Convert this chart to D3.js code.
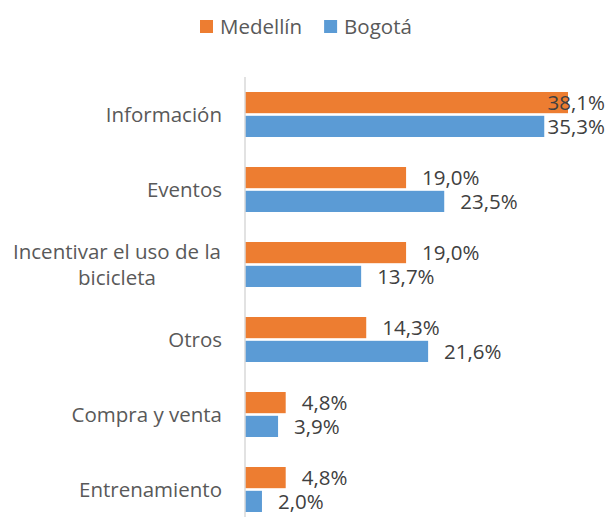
<!DOCTYPE html>
<html>
<head>
<meta charset="utf-8">
<script src="https://cdn.jsdelivr.net/npm/d3@7"></script>
<style>
  body { margin: 0; background: #fff; }
  text { font-family: "Open Sans", "Noto Sans", sans-serif; }
</style>
</head>
<body>
<div id="chart"></div>
<script>
// categories, top to bottom
const categories = ["Información", "Eventos", "Incentivar el uso de la bicicleta", "Otros", "Compra y venta", "Entrenamiento"];
const seriesNames = ["Medellín", "Bogotá"];
const medellin = [38.1, 19.0, 19.0, 14.3, 4.8, 4.8];
const bogota = [35.3, 23.5, 13.7, 21.6, 3.9, 2.0];
const colors = ["#ED7D31", "#5B9BD5"];

const width = 607, height = 517;
const margin = { top: 77, left: 245, right: 0 };
const fontSize = "20.5px";

const svg = d3.select("#chart").append("svg")
    .attr("width", width)
    .attr("height", height);

const x = d3.scaleLinear().domain([0, 38.1]).range([margin.left, 568]);
const y = d3.scaleBand().domain(categories).range([margin.top, margin.top + 75 * 6]);
const inner = d3.scaleBand().domain(seriesNames).range([15, 60]).paddingInner(0.11);

const rows = categories.map((c, i) => ({ cat: c, vals: [medellin[i], bogota[i]] }));

// bars
const groups = svg.selectAll("g.row")
    .data(rows)
    .join("g")
    .attr("class", "row")
    .attr("transform", d => `translate(0,${y(d.cat)})`);

groups.selectAll("rect")
    .data(d => d.vals.map((v, j) => ({ v, s: seriesNames[j], j })))
    .join("rect")
    .attr("x", x(0))
    .attr("y", d => inner(d.s))
    .attr("width", d => x(d.v) - x(0))
    .attr("height", inner.bandwidth())
    .attr("fill", d => colors[d.j]);

// value labels, pushed back inside when they would run off the right edge
const fmt = v => d3.format(".1f")(v).replace(".", ",") + "%";
groups.selectAll("text.val")
    .data(d => d.vals.map((v, j) => ({ v, s: seriesNames[j], j })))
    .join("text")
    .attr("class", "val")
    .attr("y", d => inner(d.s) + inner.bandwidth() / 2)
    .attr("dy", "0.35em")
    .attr("fill", "#404040")
    .style("font-size", fontSize)
    .text(d => fmt(d.v))
    .each(function(d) {
        const w = this.getComputedTextLength();
        const lx = Math.min(x(d.v) + 16, width - 2 - w);
        d3.select(this).attr("x", lx);
    });

// axis line
svg.append("line")
    .attr("x1", x(0)).attr("x2", x(0))
    .attr("y1", y.range()[0]).attr("y2", y.range()[1])
    .attr("stroke", "#d9d9d9")
    .attr("stroke-width", 1.5);

// category labels
svg.selectAll("text.cat")
    .data(categories)
    .join("text")
    .attr("class", "cat")
    .attr("fill", "#595959")
    .style("font-size", fontSize)
    .each(function(c) {
        const t = d3.select(this);
        const cy = y(c) + y.bandwidth() / 2;
        if (c === "Incentivar el uso de la bicicleta") {
            t.attr("text-anchor", "middle");
            t.append("tspan").attr("x", 117).attr("y", cy - 13).attr("dy", "0.35em").text("Incentivar el uso de la");
            t.append("tspan").attr("x", 117).attr("y", cy + 13).attr("dy", "0.35em").text("bicicleta");
        } else {
            t.attr("text-anchor", "end").attr("x", 222).attr("y", cy).attr("dy", "0.35em").text(c);
        }
    });

// legend
const legend = svg.append("g").attr("transform", "translate(200, 20)");
let lx = 0;
seriesNames.forEach((s, i) => {
    const row = legend.append("g").attr("transform", `translate(${lx},0)`);
    row.append("rect")
        .attr("width", 13).attr("height", 13)
        .attr("fill", colors[i]);
    const t = row.append("text")
        .attr("x", 20).attr("y", 6.5).attr("dy", "0.35em")
        .attr("fill", "#595959")
        .style("font-size", fontSize)
        .text(s);
    lx += 20 + t.node().getComputedTextLength() + 22;
});
</script>
</body>
</html>
